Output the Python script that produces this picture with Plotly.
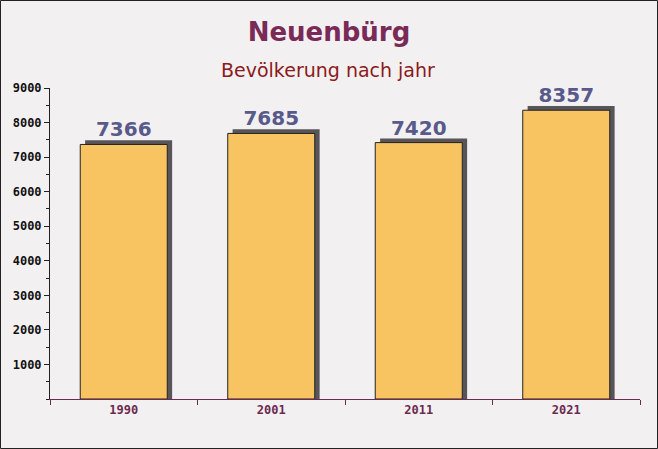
import plotly.graph_objects as go

years = ["1990", "2001", "2011", "2021"]
population = [7366, 7685, 7420, 8357]
y_ticks = [1000, 2000, 3000, 4000, 5000, 6000, 7000, 8000, 9000]

bar_w = 0.59
shadow_dx = 0.033
shadow_dy = 120

fig = go.Figure()
fig.add_trace(go.Bar(
    x=years, y=[v + shadow_dy for v in population],
    width=bar_w, offset=-bar_w / 2 + shadow_dx,
    marker=dict(color="#58555a", line=dict(width=0)),
    hoverinfo="skip", showlegend=False,
))
fig.add_trace(go.Bar(
    x=years, y=population,
    width=bar_w, offset=-bar_w / 2,
    marker=dict(color="#f8c462", line=dict(color="#222", width=1)),
    text=[str(v) for v in population], textposition="outside",
    textfont=dict(family="DejaVu Sans", size=20, color="#585a8a", weight="bold"),
    cliponaxis=False, showlegend=False,
))

W, H = 658, 449
L, R, T, B = 50, 18, 88, 50
pw, ph = W - L - R, H - T - B

fig.update_layout(
    width=W, height=H,
    barmode="overlay",
    paper_bgcolor="#f3f0f2", plot_bgcolor="rgba(0,0,0,0)",
    margin=dict(l=L, r=R, t=T, b=B),
    title=dict(
        text="<b>Neuenbürg</b>",
        x=0.5, xanchor="center", y=1 - 32 / H, yanchor="middle",
        font=dict(family="DejaVu Sans", size=26, color="#7a2a57"),
    ),
    annotations=[dict(
        text="Bevölkerung nach jahr", xref="paper", yref="paper",
        x=(328 - L) / pw, y=1 + (T - 70) / ph, xanchor="center", yanchor="middle", showarrow=False,
        font=dict(family="DejaVu Sans", size=19, color="#8b1a1a"),
    )],
    xaxis=dict(
        type="category", showgrid=False, showline=True, linecolor="#6b2a50", linewidth=1,
        ticks="outside", tickson="boundaries", ticklen=5, tickcolor="#6b2a50",
        tickfont=dict(family="DejaVu Sans Mono", size=12, color="#6b2a50", weight="bold"),
    ),
    yaxis=dict(
        range=[0, 9000], tickvals=y_ticks, showgrid=False, zeroline=False,
        showline=True, linecolor="#222", linewidth=1,
        ticks="outside", ticklen=5, tickcolor="#222",
        minor=dict(dtick=500, ticks="outside", ticklen=3, tickcolor="#222"),
        tickfont=dict(family="DejaVu Sans Mono", size=12, color="#111", weight="bold"),
    ),
    shapes=[dict(type="rect", xref="paper", yref="paper", x0=-(L - 0.5) / pw, x1=1 + (R - 0.5) / pw,
                 y0=-(B - 0.5) / ph, y1=1 + (T - 0.5) / ph, line=dict(color="#222", width=1))],
)
fig.write_html("out.html", config={"displayModeBar": False},
               post_script="document.body.style.margin='0';document.body.style.overflow='hidden';")
